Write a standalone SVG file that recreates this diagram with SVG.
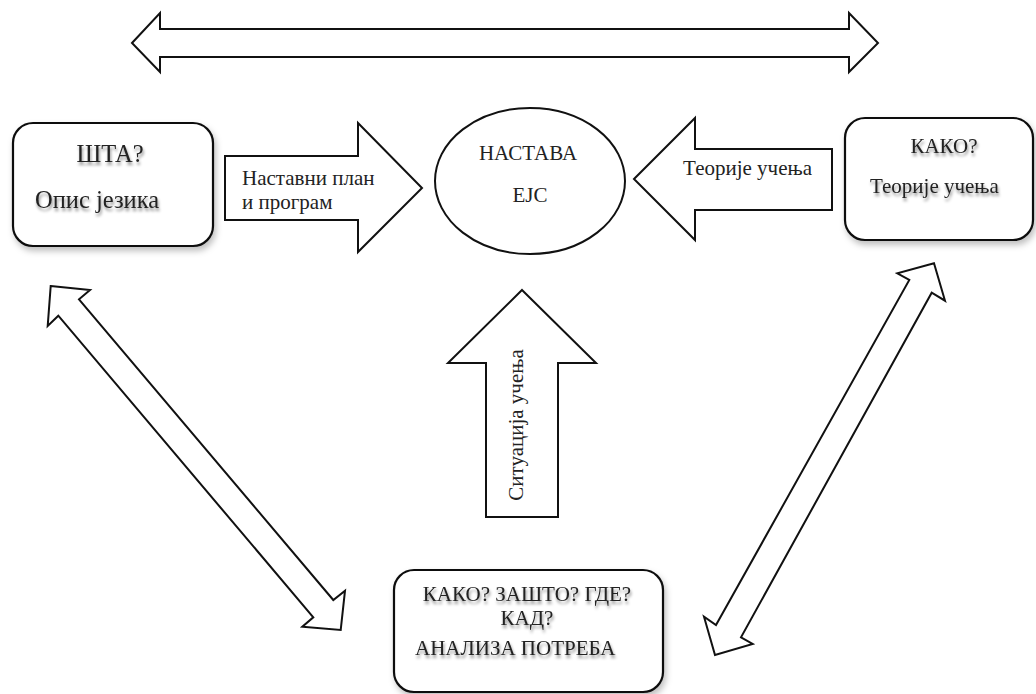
<svg xmlns="http://www.w3.org/2000/svg" width="1036" height="694" viewBox="0 0 1036 694">
<defs>
<filter id="boxShadow" x="-10%" y="-10%" width="130%" height="130%">
<feDropShadow dx="2" dy="4" stdDeviation="3" flood-color="#000" flood-opacity="0.25"/>
</filter>
<filter id="txtShadow" x="-10%" y="-30%" width="130%" height="180%">
<feDropShadow dx="1" dy="3" stdDeviation="1.6" flood-color="#000" flood-opacity="0.45"/>
</filter>
</defs>
<style>
.shape{fill:#fff;stroke:#111;stroke-width:2;stroke-linejoin:miter}
.box{fill:#fff;stroke:#111;stroke-width:2.2}
.t{font-family:"Liberation Serif","Times New Roman",serif;fill:#222;font-size:21px}
.big{font-size:24.5px}
.ts{filter:url(#txtShadow)}
</style>
<rect width="1036" height="694" fill="#fff"/>

<g id="connectors">
<polygon id="top-arrow" class="shape" points="132,43 160,13 160,29 849,29 849,13 878,43 849,72 849,57 160,57 160,72"/>
<polygon id="arrow-plan" class="shape" points="225,156 358,156 358,123 422,188 358,252 358,220 225,220"/>
<polygon id="arrow-teorije" class="shape" points="634,179 695,118 695,149 832,149 832,210 695,210 695,240"/>
<polygon id="arrow-situacija" class="shape" points="522,290 596,363 558,363 558,517 486,517 486,363 448,363"/>
<polygon id="left-diag" class="shape" points="50.7,286 90,290 79,299.3 333.3,600 345,590.7 340.7,630 302.3,626.7 313.3,617.3 58.3,315.7 47.7,326"/>
<polygon id="right-diag" class="shape" points="934,263.3 945,300.7 931.7,292.7 741,637.3 752.7,644 715,655 704,616.7 716,625 909.3,280 897.3,273.3"/>
</g>

<g id="node-shta">
<rect class="box" x="13" y="123" width="200" height="123" rx="20" filter="url(#boxShadow)"/>
<text class="t big ts" x="110" y="162" text-anchor="middle">ШТА?</text>
<text class="t big ts" x="35" y="208">Опис језика</text>
</g>

<g id="label-plan">
<text class="t" x="242" y="185" font-size="20.5">Наставни план</text>
<text class="t" x="242" y="209" font-size="20.5">и програм</text>
</g>

<g id="node-nastava">
<ellipse class="shape" cx="530" cy="181" rx="95" ry="73"/>
<text class="t" x="528" y="160" text-anchor="middle">НАСТАВА</text>
<text class="t" x="530" y="202" text-anchor="middle">ЕЈС</text>
</g>

<g id="label-teorije">
<text class="t" x="812" y="175" text-anchor="end">Теорије учења</text>
</g>

<g id="node-kako">
<rect class="box" x="845" y="118" width="188" height="122" rx="20" filter="url(#boxShadow)"/>
<text class="t ts" x="944" y="153" text-anchor="middle">КАКО?</text>
<text class="t ts" x="870" y="193" font-size="20.5">Теорије учења</text>
</g>

<g id="label-situacija">
<text class="t" transform="translate(523,425) rotate(-90)" font-size="22" text-anchor="middle">Ситуација учења</text>
</g>

<g id="node-analiza">
<rect class="box" x="394" y="570" width="269" height="122" rx="20" filter="url(#boxShadow)"/>
<text class="t ts" x="527" y="601" text-anchor="middle">КАКО? ЗАШТО? ГДЕ?</text>
<text class="t ts" x="527" y="625" text-anchor="middle">КАД?</text>
<text class="t ts" x="415" y="655">АНАЛИЗА ПОТРЕБА</text>
</g>
</svg>
